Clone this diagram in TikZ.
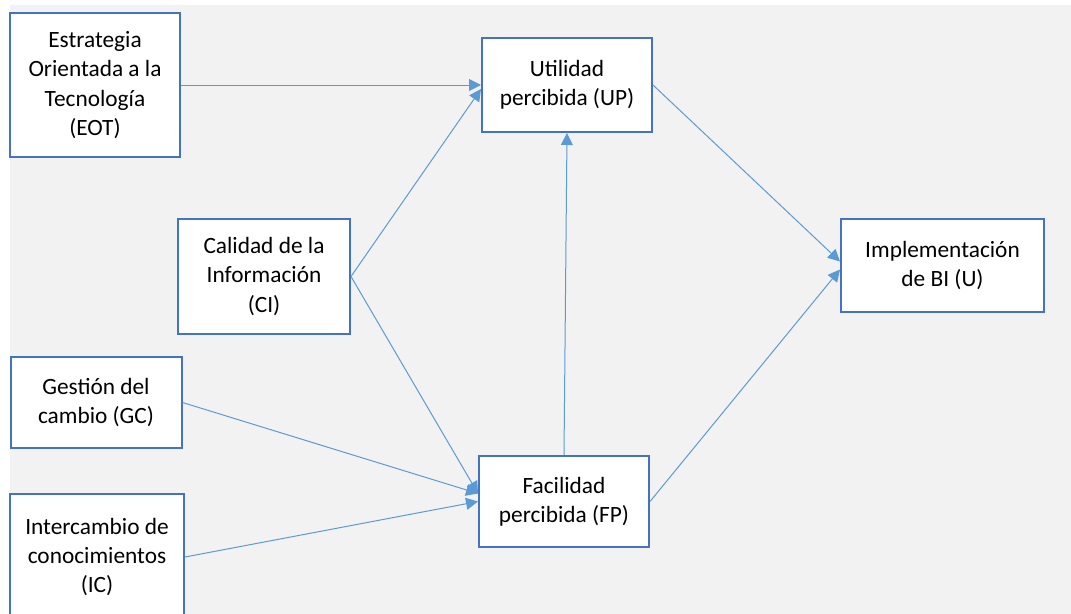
\documentclass[tikz,border=0pt]{standalone}
\usepackage{fontspec}
\setmainfont{Carlito}
\usetikzlibrary{arrows.meta,calc}
\definecolor{boxblue}{HTML}{4472C4}
\definecolor{linkblue}{HTML}{5B9BD5}
\definecolor{canvas}{HTML}{F2F2F2}
\begin{document}
\begin{tikzpicture}[x=0.75pt,y=-0.75pt,
  concept/.style={draw=boxblue,line width=1.5pt,fill=white,align=center,
    inner sep=0pt,font=\fontsize{17.5pt}{22pt}\selectfont},
  link/.style={draw=linkblue,line width=0.75pt,
    -{Triangle[length=9pt,width=9pt]}}]
  \useasboundingbox (0,0) rectangle (1071,614);
  \clip (0,0) rectangle (1071,614);
  \fill[canvas] (10,5) rectangle (1071,614);

  % constructs
  \node[concept,minimum width=127.5pt,minimum height=108pt] (eot) at (95,85)
    {Estrategia\\Orientada a la\\Tecnología\\(EOT)};
  \node[concept,minimum width=129pt,minimum height=86.25pt] (ci) at (264,276.5)
    {Calidad de la\\Información\\(CI)};
  \node[concept,minimum width=128.25pt,minimum height=68.25pt] (gc) at (96,402.5)
    {Gestión del\\cambio (GC)};
  \node[concept,minimum width=130.5pt,minimum height=94.5pt] (ic) at (97,557)
    {Intercambio de\\conocimientos\\(IC)};
  \node[concept,minimum width=127.5pt,minimum height=70.5pt] (up) at (567,85)
    {Utilidad\\percibida (UP)};
  \node[concept,minimum width=127.5pt,minimum height=68.25pt] (fp) at (564,501.5)
    {Facilidad\\percibida (FP)};
  \node[concept,minimum width=152.25pt,minimum height=69.75pt] (u) at (942.5,265.5)
    {Implementación\\de BI (U)};

  % hypothesised relations
  \draw[link] (eot.east) -- (up.west);
  \draw[link] (ci.east) -- ($(up.west)+(0,4)$);
  \draw[link] (ci.east) -- ($(fp.west)+(0,-8)$);
  \draw[link] (gc.east) -- ($(fp.west)+(0,-8)$);
  \draw[link] (ic.east) -- (fp.west);
  \draw[link] (fp.north) -- (up.south);
  \draw[link] (up.east) -- ($(u.west)+(0,-4)$);
  \draw[link] (fp.east) -- ($(u.west)+(0,4)$);
\end{tikzpicture}
\end{document}
